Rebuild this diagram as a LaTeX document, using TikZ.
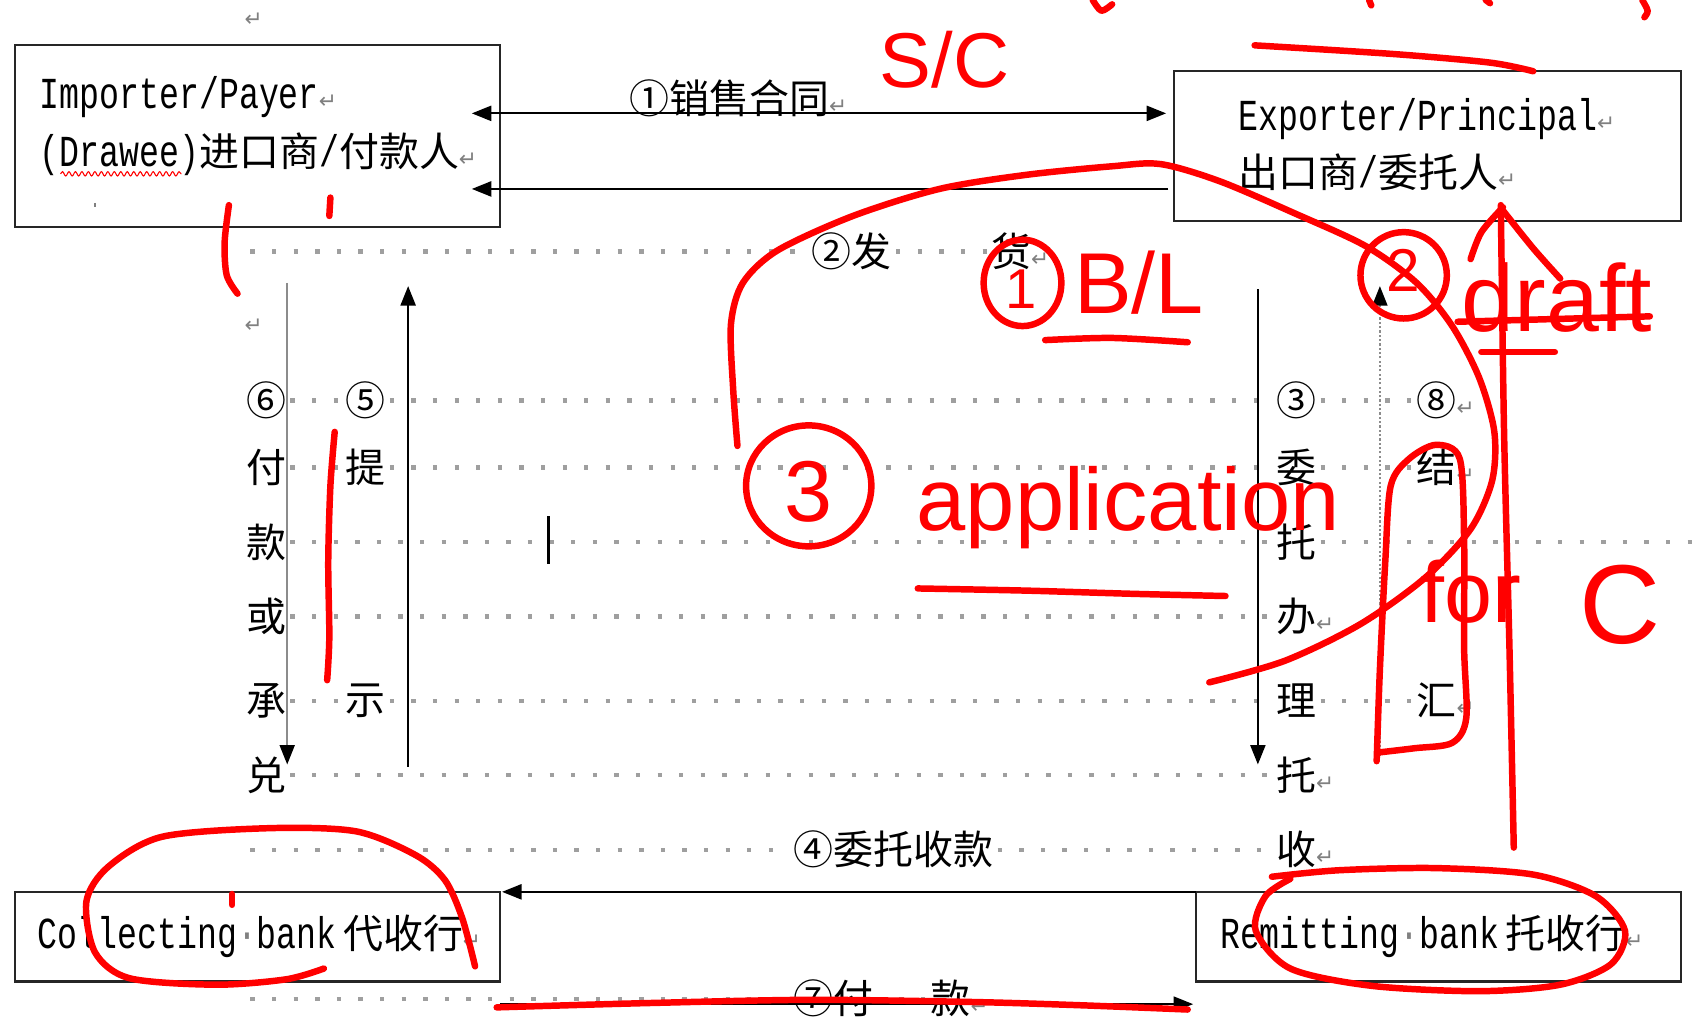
\documentclass[tikz,border=0pt]{standalone}
\usepackage{fontspec}
\usetikzlibrary{arrows.meta,decorations.pathmorphing,calc}
\newfontfamily\latf{Liberation Mono}[FakeStretch=0.75]
\newfontfamily\cjkf{Noto Sans CJK SC}
\newfontfamily\symf{DejaVu Sans}
\newfontfamily\handf{Liberation Sans}
\newcommand\parmark{{\symf\fontsize{10}{10}\selectfont\textcolor{gray}{↵}}}
\newcommand\LT[1]{{\latf\fontsize{20.5}{22}\selectfont #1}}
\begin{document}
\begin{tikzpicture}[x=0.5pt,y=-0.5pt,
  box/.style={draw=black!85, line width=1pt, inner sep=0, outer sep=0},
  txt/.style={inner sep=0, outer sep=0, anchor=west, font=\cjkf\fontsize{18.5}{20}\selectfont},
  lead/.style={draw=gray!75, line width=2pt, dash pattern=on 2pt off 8pt, shorten <=2pt, shorten >=2pt},
  flow/.style={line width=0.9pt, -{Triangle[length=9pt,width=7pt,color=black]}},
  ink/.style={draw=red, line width=3pt, line cap=round, line join=round},
  hand/.style={text=red, inner sep=0, font=\handf\fontsize{#1}{#1}\selectfont}
]
\fill[white] (0,0) rectangle (1568,946);
\useasboundingbox (0,0) rectangle (1568,946);

% boxes
\node[box, minimum width=224.5pt, minimum height=84pt] (imp) at (238.5,126) {};
\node[box, minimum width=235pt, minimum height=69.5pt] (exp) at (1322,135.5) {};
\node[box, minimum width=224.5pt, minimum height=41.5pt] (coll) at (238.5,867.5) {};
\node[box, minimum width=224.5pt, minimum height=41.5pt] (rem) at (1332.5,867.5) {};

% box texts
\node[txt] (impA) at (37,90) {\LT{Importer/Payer}\parmark};
\node[txt] (impB) at (37,143) {\LT{(Drawee)}进口商\LT{/}付款人\parmark};
\draw[red, line width=0.5pt, decorate, decoration={snake, amplitude=1pt, segment length=3pt}] (56,161) -- (168,161);
\draw[gray, line width=1pt] (88,188) -- (88,192);
\node[txt] (expA) at (1147,110) {\LT{Exporter/Principal}\parmark};
\node[txt] (expB) at (1147,160) {出口商\LT{/}委托人\parmark};
\node[txt] (collT) at (35,867) {\LT{Collecting\textcolor{gray}{·}bank}\hspace{3pt}代收行\parmark};
\node[txt] (remT) at (1130,867) {\LT{Remitting\textcolor{gray}{·}bank}\hspace{3pt}托收行\parmark};

% paragraph marks
\node[txt, anchor=center] (pm0) at (235,18) {\parmark};
\node[txt, anchor=center] (pm1) at (235,302) {\parmark};

% flow labels
\node[txt] (l1) at (583,91) {①销售合同\parmark};
\node[txt] (l2a) at (752,233) {②发};
\node[txt] (l2b) at (918,233) {货\parmark};
\node[txt] (l4) at (735,787) {④委托收款};
\node[txt] (l7a) at (735,925) {⑦付};
\node[txt] (l7b) at (862,925) {款\parmark};

% columns
\node[txt] (a1) at (228,371) {⑥};
\node[txt] (a2) at (228,433) {付};
\node[txt] (a3) at (228,502) {款};
\node[txt] (a4) at (228,571) {或};
\node[txt] (a5) at (228,649) {承};
\node[txt] (a6) at (228,718) {兑};
\node[txt] (b1) at (320,371) {⑤};
\node[txt] (b2) at (320,433) {提};
\node[txt] (b5) at (320,649) {示};
\node[txt] (c1) at (1182,371) {③};
\node[txt] (c2) at (1182,433) {委};
\node[txt] (c3) at (1182,502) {托};
\node[txt] (c4) at (1182,571) {办\parmark};
\node[txt] (c5) at (1182,649) {理};
\node[txt] (c6) at (1182,718) {托\parmark};
\node[txt] (c7) at (1182,787) {收\parmark};
\node[txt] (d1) at (1312,371) {⑧\parmark};
\node[txt] (d2) at (1312,433) {结\parmark};
\node[txt] (d5) at (1312,649) {汇\parmark};

% leaders
\coordinate (s2) at (228,233);
\coordinate (s4) at (228,787);
\coordinate (s7) at (228,925);
\coordinate (e3) at (1572,502);
\draw[lead] (s2) -- (l2a.west);
\draw[lead] (l2a.east) -- (l2b.west);
\draw[lead] (a1.east) -- (b1.west);
\draw[lead] (b1.east) -- (c1.west);
\draw[lead] (c1.east) -- (d1.west);
\draw[lead] (a2.east) -- (b2.west);
\draw[lead] (b2.east) -- (c2.west);
\draw[lead] (c2.east) -- (d2.west);
\draw[lead] (a3.east) -- (c3.west);
\draw[lead] (c3.east) -- (e3);
\draw[lead] (a4.east) -- (c4.west);
\draw[lead] (a5.east) -- (b5.west);
\draw[lead] (b5.east) -- (c5.west);
\draw[lead] (c5.east) -- (d5.west);
\draw[lead] (a6.east) -- (c6.west);
\draw[lead] (s4) -- (l4.west);
\draw[lead] (l4.east) -- (c7.west);
\draw[lead] (s7) -- (l7a.west);
\draw[lead] (l7a.east) -- (l7b.west);

% connector ends
\coordinate (h1a) at (437,105);
\coordinate (h1b) at (1080,105);
\coordinate (h2a) at (1082,175);
\coordinate (h2b) at (437,175);
\coordinate (h3b) at (465,826);
\coordinate (h4a) at (463,930);
\coordinate (h4b) at (1105,930);
\coordinate (vAa) at (266,262);
\coordinate (vAb) at (266,708);
\coordinate (vBa) at (378,710);
\coordinate (vBb) at (378,265);
\coordinate (vCa) at (1165,268);
\coordinate (vCb) at (1165,708);
\coordinate (vDa) at (1278,700);
\coordinate (vDb) at (1278,265);

\draw[flow, {Triangle[length=9pt,width=7pt]}-{Triangle[length=9pt,width=7pt]}] (h1a) -- (h1b);
\draw[flow] (h2a) -- (h2b);
\draw[flow] (rem.north west) -- (h3b);
\draw[flow] (h4a) -- (h4b);
\draw[flow, draw=gray!90, line width=0.7pt] (vAa) -- (vAb);
\draw[flow] (vBa) -- (vBb);
\draw[flow] (vCa) -- (vCb);
\draw[flow, draw=gray!90, line width=0.7pt, dash pattern=on 1pt off 1pt] (vDa) -- (vDb);

% text cursor
\draw[black, line width=1.6pt] (508,478) -- (508,522);

% ---------- red handwritten annotations ----------
\node[hand=36] (sc) at (875,55) {S/C};
\draw[ink] plot[smooth] coordinates {(1162,42) (1290,50) (1380,58) (1420,66)};
\draw[ink] plot[smooth] coordinates {(1012,0) (1020,10) (1030,4)};
\draw[ink] (1268,0) -- (1270,5);
\draw[ink] (1376,0) -- (1380,3);
\draw[ink] plot[smooth] coordinates {(1521,0) (1526,10) (1523,16)};

\draw[ink] plot[smooth] coordinates {(683,413) (679,360) (677,300) (688,262) (720,232) (790,200) (870,175) (950,162) (1030,154) (1075,152) (1130,168) (1200,198) (1265,228) (1312,262) (1345,302) (1370,350) (1384,400) (1382,445) (1362,490) (1320,535) (1260,578) (1190,612) (1120,632)};

\draw[ink] (947,262) ellipse [x radius=36, y radius=40];
\node[hand=26] (n1) at (946,268) {1};
\node[hand=40] (bl) at (1055,262) {B/L};
\draw[ink] plot[smooth] coordinates {(968,315) (1030,313) (1100,317)};

\draw[ink] (1300,255) ellipse [x radius=40, y radius=40];
\node[hand=28] (n2) at (1300,250) {2};
\node[hand=44] (dr) at (1442,276) {draft};
\draw[ink] plot[smooth] coordinates {(1390,190) (1393,400) (1398,600) (1402,785)};
\draw[ink] plot[smooth] coordinates {(1362,240) (1372,215) (1392,192)};
\draw[ink] plot[smooth] coordinates {(1392,195) (1420,230) (1445,258)};
\draw[ink] (1350,298) -- (1528,293);
\draw[ink] (1372,326) -- (1440,326);

\draw[ink] (749,450) ellipse [x radius=58, y radius=56];
\node[hand=40] (n3) at (749,455) {3};
\node[hand=41] (app) at (1045,470) {application};
\draw[ink] plot[smooth] coordinates {(850,545) (950,547) (1050,550) (1135,552)};

\draw[ink] plot[smooth] coordinates {(1275,705) (1278,620) (1283,520) (1288,450) (1305,425) (1330,412) (1352,425) (1356,500) (1356,600) (1358,665) (1345,688) (1310,693) (1276,697)};
\node[hand=40] (fr) at (1362,548) {for};
\node[hand=52] (cc) at (1500,560) {C};

\draw[ink] plot[smooth] coordinates {(310,400) (306,450) (304,520) (305,590) (303,630)};
\draw[ink] plot[smooth] coordinates {(212,190) (208,225) (210,255) (220,272)};
\draw[ink] (306,183) -- (305,200);
\draw[ink] (215,828) -- (215,838);

\draw[ink] plot[smooth] coordinates {(300,897) (265,907) (200,912) (120,906) (88,882) (80,835) (100,803) (150,775) (250,767) (330,770) (385,792) (412,815) (428,850) (440,895)};
\draw[ink] plot[smooth] coordinates {(1178,812) (1240,806) (1330,804) (1420,810) (1478,830) (1505,862) (1492,893) (1445,912) (1370,918) (1270,913) (1195,897) (1163,862) (1172,830) (1195,814)};
\draw[ink] plot[smooth] coordinates {(460,933) (600,929) (750,926) (900,928) (1000,931) (1100,935)};
\end{tikzpicture}
\end{document}
